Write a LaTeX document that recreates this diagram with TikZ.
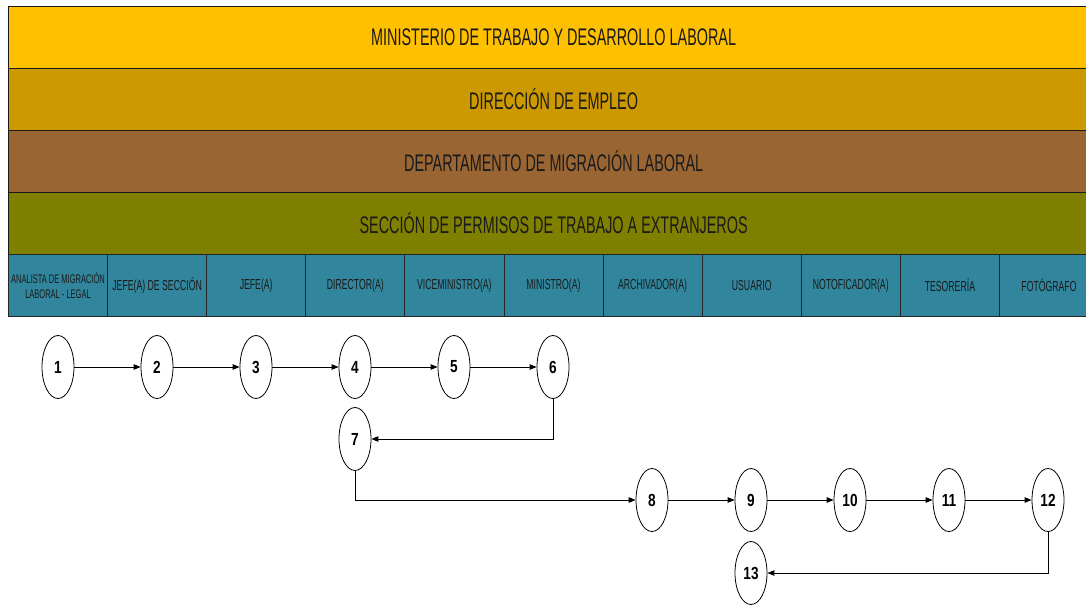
\documentclass[tikz,border=0pt]{standalone}
\usepackage{fontspec}
\setmainfont{Liberation Sans}
\newfontfamily\hdrfont[FakeStretch=0.6]{Liberation Sans}
\newfontfamily\numfont[FakeStretch=0.78]{Liberation Sans}
\usetikzlibrary{shapes.geometric,arrows.meta}
\definecolor{bandA}{HTML}{FFC000}
\definecolor{bandB}{HTML}{CC9900}
\definecolor{bandC}{HTML}{996633}
\definecolor{bandD}{HTML}{808000}
\definecolor{colteal}{HTML}{31859C}
\definecolor{txtdark}{HTML}{1A1A1A}
\tikzset{
  band/.style={draw=black!90, line width=1.3pt, minimum width=1090pt, minimum height=62pt, anchor=north west, inner sep=0pt, text=txtdark, font=\hdrfont\fontsize{24}{26}\selectfont},
  colbox/.style={draw=black!85, line width=0.9pt, fill=colteal, minimum width=99.1pt, minimum height=62pt, anchor=north west, inner sep=0pt, text=txtdark, font=\hdrfont\fontsize{14.5}{16}\selectfont, align=center},
  stepnode/.style={draw=black, line width=0.8pt, ellipse, fill=white, minimum width=32pt, minimum height=63pt, inner sep=0pt, font=\numfont\bfseries\fontsize{17.5}{19}\selectfont},
  flow/.style={draw=black, line width=0.9pt, -{Triangle[length=7pt,width=5.5pt]}}
}
\begin{document}
\begin{tikzpicture}[x=1pt,y=-1pt]
\useasboundingbox (0,0) rectangle (1086,605);
\begin{scope}
\clip (0,0) rectangle (1086,605);
\node[band, fill=bandA] (b1) at (8,6) {MINISTERIO DE TRABAJO Y DESARROLLO LABORAL};
\node[band, fill=bandB] (b2) at (8,68) {DIRECCIÓN DE EMPLEO};
\node[band, fill=bandC] (b3) at (8,130) {DEPARTAMENTO DE MIGRACIÓN LABORAL};
\node[band, fill=bandD] (b4) at (8,192) {SECCIÓN DE PERMISOS DE TRABAJO A EXTRANJEROS};
\node[colbox, font=\hdrfont\fontsize{12.5}{15}\selectfont] (c1) at (8,254) {ANALISTA DE MIGRACIÓN\\LABORAL - LEGAL};
\node[colbox] (c2) at (107.1,254) {JEFE(A) DE SECCIÓN};
\node[colbox] (c3) at (206.2,254) {JEFE(A)};
\node[colbox] (c4) at (305.3,254) {DIRECTOR(A)};
\node[colbox] (c5) at (404.4,254) {VICEMINISTRO(A)};
\node[colbox] (c6) at (503.5,254) {MINISTRO(A)};
\node[colbox] (c7) at (602.6,254) {ARCHIVADOR(A)};
\node[colbox] (c8) at (701.7,254) {USUARIO};
\node[colbox] (c9) at (800.8,254) {NOTOFICADOR(A)};
\node[colbox] (c10) at (899.9,254) {TESORERÍA};
\node[colbox] (c11) at (999,254) {FOTÓGRAFO};
\end{scope}
\node[stepnode] (n1) at (58,367) {1};
\node[stepnode] (n2) at (157,367) {2};
\node[stepnode] (n3) at (256,367) {3};
\node[stepnode] (n4) at (355,367) {4};
\node[stepnode] (n5) at (454,367) {5};
\node[stepnode] (n6) at (553,367) {6};
\node[stepnode] (n7) at (355,439) {7};
\node[stepnode] (n8) at (652,500) {8};
\node[stepnode] (n9) at (751,500) {9};
\node[stepnode] (n10) at (850,500) {10};
\node[stepnode] (n11) at (949,500) {11};
\node[stepnode] (n12) at (1048,500) {12};
\node[stepnode] (n13) at (751,573) {13};
\draw[flow] (n1) -- (n2);
\draw[flow] (n2) -- (n3);
\draw[flow] (n3) -- (n4);
\draw[flow] (n4) -- (n5);
\draw[flow] (n5) -- (n6);
\draw[flow] (n6.south) |- (n7.east);
\draw[flow] (n7.south) |- (n8.west);
\draw[flow] (n8) -- (n9);
\draw[flow] (n9) -- (n10);
\draw[flow] (n10) -- (n11);
\draw[flow] (n11) -- (n12);
\draw[flow] (n12.south) |- (n13.east);
\end{tikzpicture}
\end{document}
